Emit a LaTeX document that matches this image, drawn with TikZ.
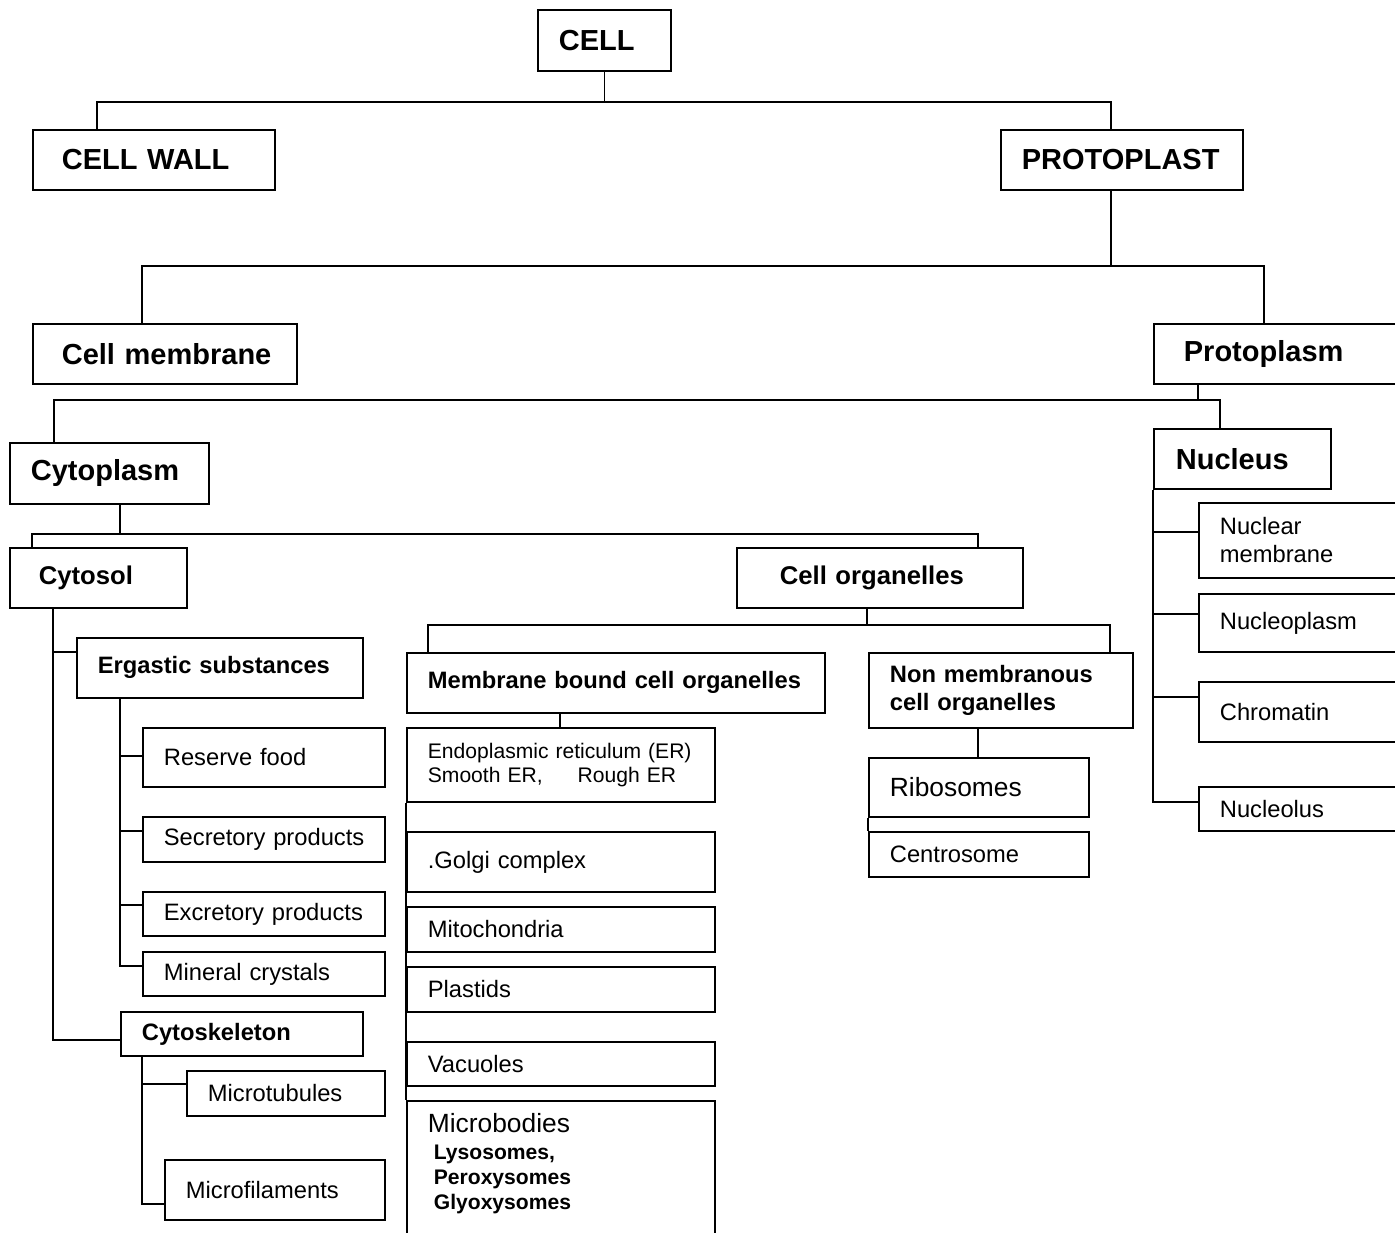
\documentclass[tikz,border=0pt]{standalone}
\usepackage{fontspec}
\setmainfont{Liberation Sans}
\usepackage{tikz}
\usetikzlibrary{calc}
% no word is broken across lines
\hyphenpenalty=10000
\exhyphenpenalty=10000

\begin{document}
\begin{tikzpicture}[x=0.2mm, y=-0.2mm, line width=1pt,
  box/.style={draw, anchor=north west, align=left, inner xsep=4.2mm, inner ysep=0pt},
  big/.style={font=\fontsize{16.5}{19}\selectfont\bfseries},
  mid/.style={font=\fontsize{14.6}{17}\selectfont\bfseries},
  sub/.style={font=\fontsize{13.5}{16}\selectfont\bfseries},
  leaf/.style={font=\fontsize{13.5}{16}\selectfont},
  large/.style={font=\fontsize{15}{17}\selectfont}]

  % page frame (1 unit = 1 pixel of the original)
  \useasboundingbox (0,0) rectangle (1395,1232);
  \clip (0,0) rectangle (1395,1232);

  % top levels
  \node[box, big, text width=18.2mm, minimum height=12.2mm] (cell) at (537,9) {CELL};
  \node[box, big, inner xsep=5.8mm, text width=36.8mm, minimum height=12mm] (wall) at (32,129) {CELL~WALL};
  \node[box, big, text width=40mm, minimum height=12mm] (plast) at (1000,129) {PROTOPLAST};
  \node[box, big, inner xsep=5.8mm, text width=41.2mm, minimum height=12mm] (memb) at (32,323) {Cell~membrane};
  \node[box, big, inner xsep=6mm, text width=38mm, minimum height=12mm] (plasm) at (1153,323) {Protoplasm};
  \node[box, big, text width=31.4mm, minimum height=12.2mm] (cyto) at (9,442) {Cytoplasm};
  \node[box, big, inner xsep=4.4mm, text width=26.6mm, minimum height=12mm] (nucl) at (1153,428) {Nucleus};
  \node[box, mid, inner xsep=5.8mm, text width=23.8mm, minimum height=12mm] (sol) at (9,547) {Cytosol};
  \node[box, mid, inner xsep=8.6mm, text width=40mm, minimum height=12mm] (org) at (736,547) {Cell~organelles};

  % cytosol branch
  \node[box, sub, text width=48.8mm, minimum height=12mm] (erg) at (76,637) {Ergastic~substances};
  \node[box, leaf, text width=40mm, minimum height=11.8mm] (rf) at (142,727) {Reserve~food};
  \node[box, leaf, text width=40mm, minimum height=9mm] (sec) at (142,816) {Secretory~products};
  \node[box, leaf, text width=40mm, minimum height=8.8mm] (exc) at (142,891) {Excretory~products};
  \node[box, leaf, text width=40mm, minimum height=8.8mm] (mnc) at (142,951) {Mineral~crystals};
  \node[box, sub, text width=40mm, minimum height=8.8mm] (skel) at (120,1011) {Cytoskeleton};
  \node[box, leaf, text width=31.2mm, minimum height=9mm] (tub) at (186,1070) {Microtubules};
  \node[box, leaf, text width=35.6mm, minimum height=12mm] (fil) at (164,1159) {Microfilaments};

  % organelles
  \node[box, sub, text width=75.2mm, minimum height=12mm] (mbd) at (406,652) {Membrane~bound~cell~organelles};
  \node[box, sub, text width=44.4mm, minimum height=15mm] (nmb) at (868,652) {Non~membranous\\cell~organelles};
  \node[box, font=\fontsize{12}{13.7}\selectfont, text width=53.2mm, minimum height=14.8mm] (er) at (406,727)
    {Endoplasmic~reticulum~(ER)\\Smooth~ER,\hspace{7mm}Rough~ER};
  \node[box, leaf, text width=53.2mm, minimum height=12mm] (golgi) at (406,831) {.Golgi~complex};
  \node[box, leaf, text width=53.2mm, minimum height=9mm] (mito) at (406,906) {Mitochondria};
  \node[box, leaf, text width=53.2mm, minimum height=9mm] (pld) at (406,966) {Plastids};
  \node[box, leaf, text width=53.2mm, minimum height=8.8mm] (vac) at (406,1041) {Vacuoles};
  \node[box, font=\fontsize{12}{14.2}\selectfont\bfseries, text width=53.2mm, minimum height=28mm] (mcb) at (406,1100)
    {{\fontsize{15}{17}\selectfont\mdseries Microbodies}\\[1pt]
     \hspace*{1.2mm}Lysosomes,\\
     \hspace*{1.2mm}Peroxysomes\\
     \hspace*{1.2mm}Glyoxysomes\rule[-3.7mm]{0pt}{3.7mm}};
  \node[box, large, text width=35.6mm, minimum height=11.8mm] (ribo) at (868,757) {Ribosomes};
  \node[box, leaf, text width=35.6mm, minimum height=9mm] (cent) at (868,831) {Centrosome};

  % nucleus branch
  \node[box, leaf, text width=32.6mm, minimum height=15mm] (nmem) at (1198,502) {Nuclear\\membrane};
  \node[box, leaf, text width=32.6mm, minimum height=11.6mm] (npl) at (1198,593) {Nucleoplasm};
  \node[box, leaf, text width=32.6mm, minimum height=12mm] (chr) at (1198,681) {Chromatin};
  \node[box, leaf, text width=32.6mm, minimum height=8.8mm] (nls) at (1198,786) {Nucleolus};

  % CELL
  \draw (cell.south) -- ++(0,30) coordinate (jc);
  \draw ($(wall.north west)+(65,0)$) |- (jc) -| ($(plast.north west)+(111,0)$);

  % PROTOPLAST
  \draw ($(plast.south west)+(111,0)$) -- ++(0,75) coordinate (jp);
  \draw ($(memb.north west)+(110,0)$) |- (jp) -| ($(plasm.north west)+(111,0)$);

  % Protoplasm
  \draw ($(plasm.south west)+(45,0)$) -- ++(0,15) coordinate (jq);
  \draw ($(cyto.north west)+(45,0)$) |- (jq) -| ($(nucl.north west)+(67,0)$);

  % Cytoplasm
  \draw ($(cyto.south west)+(111,0)$) -- ++(0,29) coordinate (jy);
  \draw ($(sol.north west)+(23,0)$) |- (jy) -| ($(org.north west)+(242,0)$);

  % Cytosol
  \coordinate (ts) at ($(sol.south west)+(44,0)$);
  \draw (ts) |- ($(skel.north west)+(0,29)$);
  \draw ($(erg.north west)+(0,15)$) -| (ts);

  % Ergastic substances
  \coordinate (te) at ($(erg.south west)+(44,0)$);
  \draw (te) |- ($(mnc.north west)+(0,15)$);
  \foreach \n/\d in {rf/29, sec/15, exc/14}
    \draw ($(\n.north west)+(0,\d)$) -| (te);

  % Cytoskeleton
  \coordinate (tk) at ($(skel.south west)+(22,0)$);
  \draw (tk) |- ($(fil.north west)+(0,45)$);
  \draw ($(tub.north west)+(0,14)$) -| (tk);

  % Cell organelles
  \draw ($(org.south west)+(131,0)$) -- ++(0,16) coordinate (jo);
  \draw ($(mbd.north west)+(22,0)$) |- (jo) -| ($(nmb.north west)+(242,0)$);
  \draw ($(mbd.south west)+(154,0)$) -- ($(er.north west)+(154,0)$);
  \draw (er.south west) -- (mcb.north west);
  \draw ($(nmb.south west)+(110,0)$) -- ($(ribo.north west)+(110,0)$);
  \draw (ribo.south west) -- (cent.north west);

  % Nucleus
  \draw (nucl.south west) |- ($(nls.north west)+(0,16)$);
  \foreach \n/\d in {nmem/30, npl/21, chr/16}
    \draw ($(\n.north west)+(0,\d)$) -| (nucl.south west);
\end{tikzpicture}
\end{document}
